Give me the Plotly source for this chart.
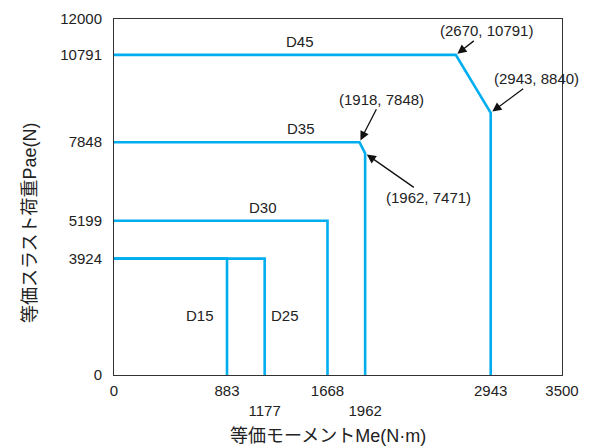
import plotly.graph_objects as go

# Data
series_names = ["D15", "D25", "D30", "D35", "D45"]
d15_x = [0, 883, 883]
d15_y = [3924, 3924, 0]
d25_x = [0, 1177, 1177]
d25_y = [3924, 3924, 0]
d30_x = [0, 1668, 1668]
d30_y = [5199, 5199, 0]
d35_x = [0, 1918, 1962, 1962]
d35_y = [7848, 7848, 7471, 0]
d45_x = [0, 2670, 2943, 2943]
d45_y = [10791, 10791, 8840, 0]

x_ticks = [0, 883, 1177, 1668, 1962, 2943, 3500]
x_tick_text = ["0", "883", "<br>1177", "1668", "<br>1962", "2943", "3500"]
y_ticks = [0, 3924, 5199, 7848, 10791, 12000]
y_tick_text = ["0", "3924", "5199", "7848", "10791", "12000"]

callouts = [(2670, 10791), (2943, 8840), (1918, 7848), (1962, 7471)]

COLOR = "#00AEEF"
FONT = "Liberation Sans, Arial, Noto Sans CJK JP, sans-serif"

fig = go.Figure()
for xs, ys in [(d15_x, d15_y), (d25_x, d25_y), (d30_x, d30_y), (d35_x, d35_y), (d45_x, d45_y)]:
    fig.add_trace(go.Scatter(x=xs, y=ys, mode="lines",
                             line=dict(color=COLOR, width=2.6), showlegend=False,
                             hoverinfo="skip"))

# series labels
label_pos = {"D45": (1453, 10791, "bottom"), "D35": (1460, 7848, "bottom"),
             "D30": (1164, 5199, "bottom"), "D15": (672, 1989, "middle"),
             "D25": (1333, 1989, "middle")}
for name in series_names:
    lx, ly, ya = label_pos[name]
    fig.add_annotation(x=lx, y=ly, text=name, showarrow=False, yanchor=ya,
                       yshift=3 if ya == "bottom" else 0,
                       font=dict(size=15, color="#222", family=FONT))

offsets = [(31, -24), (46, -34), (22, -43), (63, 44)]
for (cx, cy), (ax, ay) in zip(callouts, offsets):
    fig.add_annotation(x=cx, y=cy, text=f"({cx}, {cy})", showarrow=True,
                       ax=ax, ay=ay, arrowhead=2, arrowsize=1.4, arrowwidth=1.3,
                       arrowcolor="#111", standoff=2,
                       font=dict(size=15, color="#222", family=FONT))

fig.add_annotation(xref="paper", yref="paper", x=0.478, y=-0.171, yanchor="middle",
                   text="等価モーメントMe(N·m)", showarrow=False,
                   font=dict(size=18, color="#222", family=FONT))
fig.add_annotation(xref="paper", yref="paper", x=-0.214, y=0.427, textangle=-90,
                   text="等価スラスト荷重Pae(N)", showarrow=False,
                   font=dict(size=18, color="#222", family=FONT))

fig.update_xaxes(range=[0, 3500], tickvals=x_ticks, ticktext=x_tick_text,
                 showgrid=False, zeroline=False, showline=True, mirror=True,
                 linecolor="#333", linewidth=1, ticks="", ticklabelstandoff=2,
                 tickfont=dict(size=15, color="#222", family=FONT))
fig.update_yaxes(range=[0, 12000], tickvals=y_ticks, ticktext=y_tick_text,
                 showgrid=False, zeroline=False, showline=True, mirror=True,
                 linecolor="#333", linewidth=1, ticks="", ticklabelstandoff=8,
                 tickfont=dict(size=15, color="#222", family=FONT))

# page body has an 8px margin; compensate so plot area matches reference
fig.update_layout(width=581, height=438, margin=dict(l=106, r=27, t=11, b=71, autoexpand=False),
                  plot_bgcolor="white", paper_bgcolor="white")

fig.write_html("out.html")
